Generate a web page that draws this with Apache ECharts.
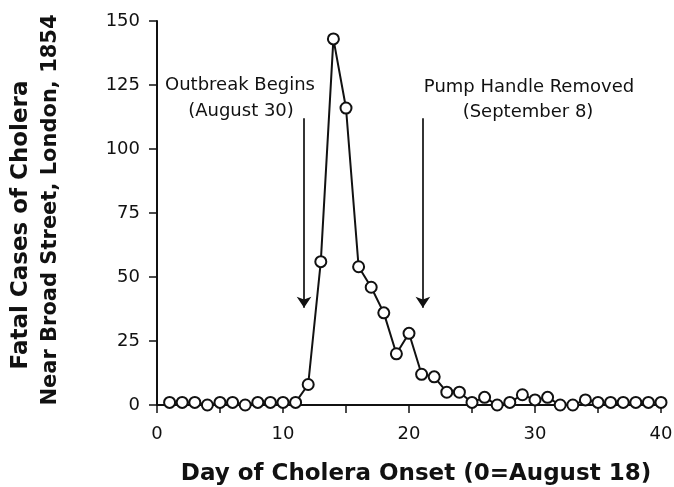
<!DOCTYPE html>
<html>
<head>
<meta charset="utf-8">
<script src="https://cdn.jsdelivr.net/npm/echarts@6/dist/echarts.min.js"></script>
<style>
html,body{margin:0;padding:0;background:#fff;}
#chart{width:674px;height:487px;}
</style>
</head>
<body>
<div id="chart"></div>
<script>
// ---- data ----
var days = [1,2,3,4,5,6,7,8,9,10,11,12,13,14,15,16,17,18,19,20,21,22,23,24,25,26,27,28,29,30,31,32,33,34,35,36,37,38,39,40];
var deaths = [1,1,1,0,1,1,0,1,1,1,1,8,56,143,116,54,46,36,20,28,12,11,5,5,1,3,0,1,4,2,3,0,0,2,1,1,1,1,1,1];
var yTicks = [0,25,50,75,100,125,150];
var xTickLabels = [0,10,20,30,40];
var annotations = [
  {lines:['Outbreak Begins','(August 30)'], day:11.67},
  {lines:['Pump Handle Removed','(September 8)'], day:21.1}
];
var arrowTop = 112, arrowEnd = 38;
var xTitle = 'Day of Cholera Onset (0=August 18)';
var yTitle1 = 'Fatal Cases of Cholera';
var yTitle2 = 'Near Broad Street, London, 1854';

var ink = '#111111';
var chart = echarts.init(document.getElementById('chart'), null, {renderer:'canvas'});

var seriesData = days.map(function(d,i){return [d, deaths[i]];});

var option = {
  animation:false,
  backgroundColor:'#fff',
  grid:{left:157,right:13,top:21,bottom:82,containLabel:false,outerBoundsMode:'none'},
  xAxis:{
    type:'value', min:0, max:40, interval:5,
    axisLine:{show:true,onZero:false,lineStyle:{color:ink,width:2}},
    axisTick:{show:true,length:8,lineStyle:{color:ink,width:1.5}},
    splitLine:{show:false},
    axisLabel:{color:ink,fontFamily:'DejaVu Sans',fontSize:18,margin:20,
      formatter:function(v){return xTickLabels.indexOf(v)>=0 ? String(v) : '';}},
    name:xTitle, nameLocation:'middle', nameGap:58,
    nameTextStyle:{color:ink,fontFamily:'DejaVu Sans',fontWeight:'bold',fontSize:23,padding:[0,0,0,14]}
  },
  yAxis:{
    type:'value', min:0, max:150, interval:25,
    axisLine:{show:true,onZero:false,lineStyle:{color:ink,width:2}},
    axisTick:{show:true,length:8,lineStyle:{color:ink,width:1.5}},
    splitLine:{show:false},
    axisLabel:{color:ink,fontFamily:'DejaVu Sans',fontSize:18,margin:17,
      formatter:function(v){return yTicks.indexOf(v)>=0 ? String(v) : '';}}
  },
  graphic:[
    {type:'text', x:21, y:225, rotation:Math.PI/2, silent:true,
     style:{text:yTitle1, x:0, y:0, fill:ink, font:'bold 23px "DejaVu Sans"', textAlign:'center', textVerticalAlign:'middle', verticalAlign:'middle'}},
    {type:'text', x:51, y:210, rotation:Math.PI/2, silent:true,
     style:{text:yTitle2, x:0, y:0, fill:ink, font:'bold 21px "DejaVu Sans"', textAlign:'center', textVerticalAlign:'middle', verticalAlign:'middle'}},
    {type:'text', x:240, y:85, silent:true,
     style:{text:annotations[0].lines[0], fill:ink, font:'18px "DejaVu Sans"', textAlign:'center', textVerticalAlign:'middle', verticalAlign:'middle'}},
    {type:'text', x:241, y:111, silent:true,
     style:{text:annotations[0].lines[1], fill:ink, font:'18px "DejaVu Sans"', textAlign:'center', textVerticalAlign:'middle', verticalAlign:'middle'}},
    {type:'text', x:529, y:87, silent:true,
     style:{text:annotations[1].lines[0], fill:ink, font:'18px "DejaVu Sans"', textAlign:'center', textVerticalAlign:'middle', verticalAlign:'middle'}},
    {type:'text', x:528, y:112, silent:true,
     style:{text:annotations[1].lines[1], fill:ink, font:'18px "DejaVu Sans"', textAlign:'center', textVerticalAlign:'middle', verticalAlign:'middle'}}
  ],
  series:[{
    type:'line',
    data:seriesData,
    symbol:'emptyCircle',
    symbolSize:11,
    showAllSymbol:true,
    color:ink,
    lineStyle:{color:ink,width:2},
    itemStyle:{color:ink,borderColor:ink,borderWidth:1.6},
    emphasis:{disabled:true},
    markLine:{
      silent:true, animation:false,
      symbol:['none','arrow'], symbolSize:11,
      itemStyle:{color:ink},
      lineStyle:{color:ink,width:1.7,type:'solid'},
      label:{show:false},
      emphasis:{disabled:true},
      data:annotations.map(function(a){
        return [{coord:[a.day,arrowTop]},{coord:[a.day,arrowEnd]}];
      })
    }
  }]
};
chart.setOption(option);
</script>
</body>
</html>
